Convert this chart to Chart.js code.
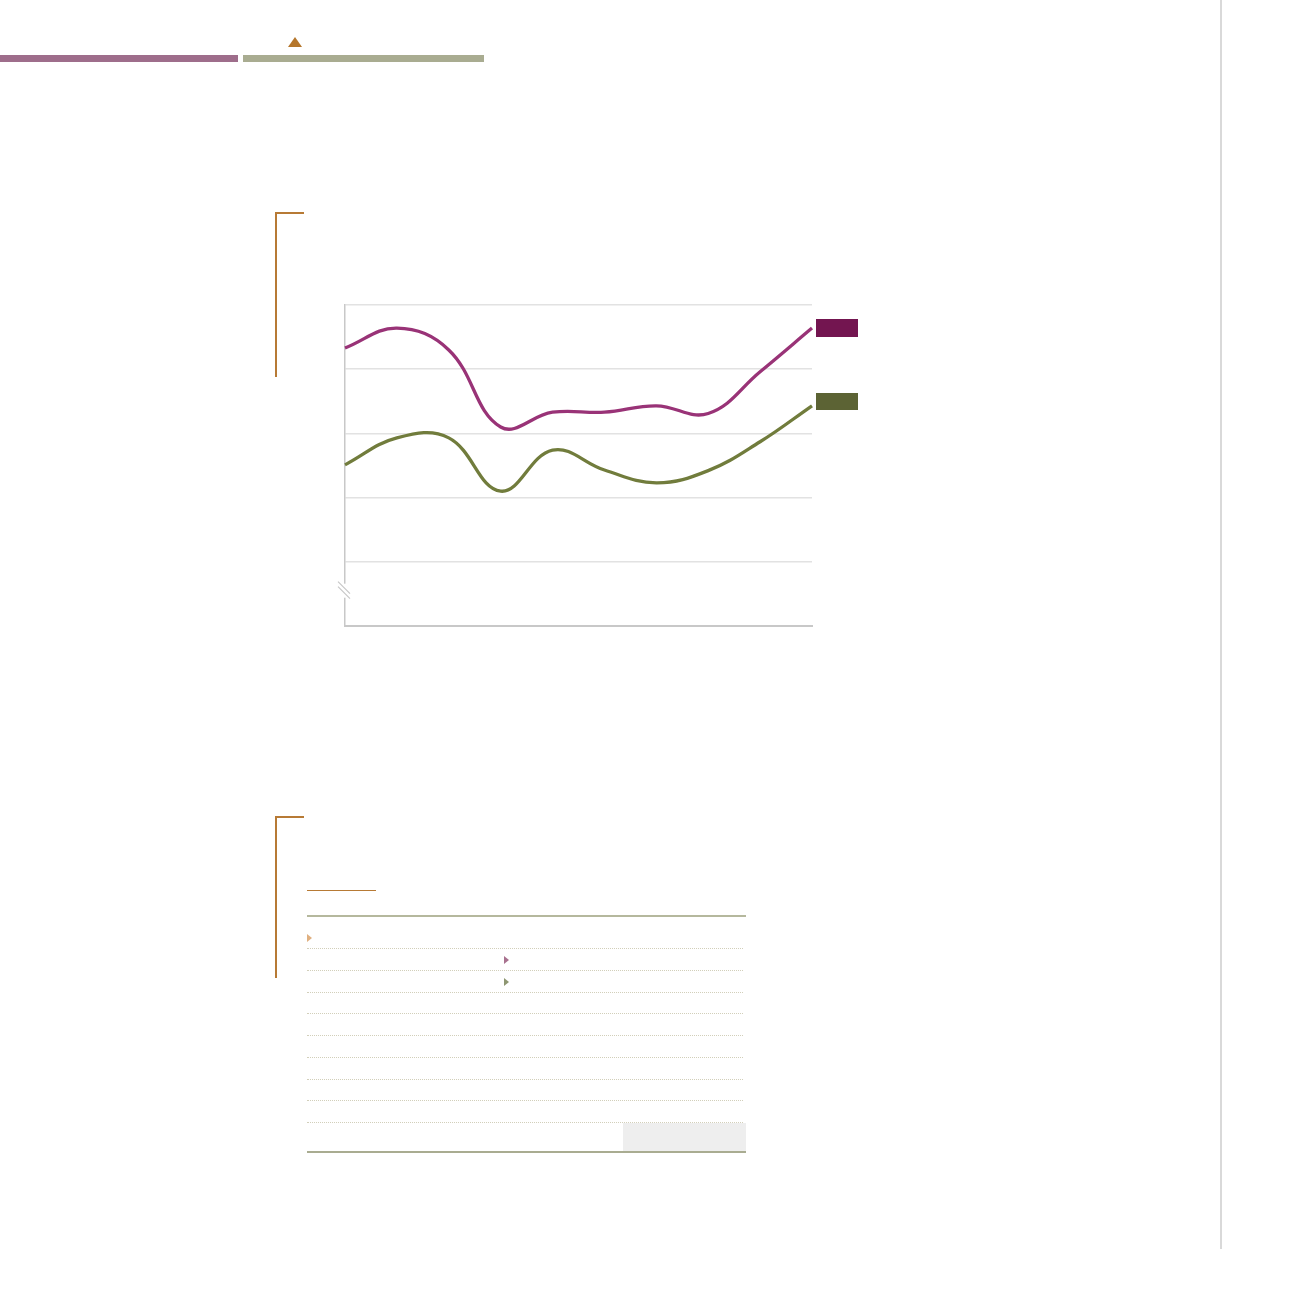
<!DOCTYPE html>
<html>
<head>
<meta charset="utf-8">
<script src="https://cdn.jsdelivr.net/npm/chart.js@4.4.1/dist/chart.umd.min.js"></script>
<style>
  html, body { margin:0; padding:0; background:#fff; width:1301px; height:1301px; overflow:hidden; font-family:"Noto Sans", sans-serif; }
  .abs { position:absolute; }
  #chartWrap { position:absolute; left:330px; top:290px; width:500px; height:350px; }
</style>
</head>
<body>
<!-- top decorations -->
<div class="abs" style="left:0;top:55px;width:238px;height:7px;background:#9e6d8b;"></div>
<div class="abs" style="left:243px;top:55px;width:241px;height:7px;background:#a9ac91;"></div>
<div class="abs" style="left:288px;top:37px;width:0;height:0;border-left:7px solid transparent;border-right:7px solid transparent;border-bottom:10px solid #b5762b;"></div>
<!-- right rule -->
<div class="abs" style="left:1220px;top:0;width:2px;height:1249px;background:#d9d9d9;"></div>

<!-- chart bracket -->
<div class="abs" style="left:275px;top:212px;width:2px;height:165px;background:#b77a35;"></div>
<div class="abs" style="left:275px;top:212px;width:29px;height:2px;background:#b77a35;"></div>

<div id="chartWrap"><canvas id="c" width="500" height="350"></canvas></div>
<div class="abs" style="left:816px;top:319px;width:42px;height:18px;background:#731550;"></div>
<div class="abs" style="left:816px;top:393px;width:42px;height:17px;background:#5c6334;"></div>

<!-- table bracket -->
<div class="abs" style="left:275px;top:816px;width:2px;height:162px;background:#b77a35;"></div>
<div class="abs" style="left:275px;top:816px;width:29px;height:2px;background:#b77a35;"></div>

<!-- table -->
<div class="abs" style="left:307px;top:890px;width:69px;height:1px;background:#b77a35;"></div>
<div class="abs" style="left:307px;top:915px;width:439px;height:2px;background:#b5b89d;"></div>
<div class="abs" style="left:307px;top:934px;width:0;height:0;border-top:4px solid transparent;border-bottom:4px solid transparent;border-left:5px solid #e0b080;"></div>
<div class="abs" style="left:504px;top:956px;width:0;height:0;border-top:4px solid transparent;border-bottom:4px solid transparent;border-left:5px solid #a8718f;"></div>
<div class="abs" style="left:504px;top:978px;width:0;height:0;border-top:4px solid transparent;border-bottom:4px solid transparent;border-left:5px solid #8e9672;"></div>
<div id="dots"></div>
<div class="abs" style="left:623px;top:1123px;width:123px;height:29px;background:#eeeeee;"></div>
<div class="abs" style="left:307px;top:1151px;width:439px;height:2px;background:#a9ac91;"></div>

<script>
// ---- data ----
const categories = ['1','2','3','4','5','6','7','8','9','10'];
const seriesA = [4.33, 4.64, 4.30, 3.10, 3.33, 3.33, 3.43, 3.31, 3.96, 4.64];
const seriesB = [2.51, 2.93, 2.93, 2.10, 2.74, 2.43, 2.23, 2.42, 2.87, 3.43];
const seriesNames = ['', ''];
const yTicks = [];

// dotted table rules
const dotRows = [948, 970, 992, 1013, 1035, 1057, 1079, 1100, 1122];
const dots = document.getElementById('dots');
dotRows.forEach(y => {
  const d = document.createElement('div');
  d.className = 'abs';
  d.style.cssText = `left:307px;top:${y}px;width:436px;height:0;border-top:1px dotted #d2cfba;`;
  dots.appendChild(d);
});

const breakPlugin = {
  id: 'axisBreak',
  afterDraw(chart) {
    const ctx = chart.ctx;
    const x = chart.chartArea.left;
    const y = chart.scales.y.getPixelForValue(0.55);
    ctx.save();
    ctx.fillStyle = '#fff';
    ctx.fillRect(x - 3, y - 7, 6, 14);
    ctx.strokeStyle = '#c8c8c8';
    ctx.lineWidth = 1.2;
    ctx.beginPath();
    ctx.moveTo(x - 7, y - 9); ctx.lineTo(x + 5, y + 3);
    ctx.moveTo(x - 7, y - 4); ctx.lineTo(x + 5, y + 8);
    ctx.stroke();
    ctx.restore();
  }
};

new Chart(document.getElementById('c'), {
  type: 'line',
  data: {
    labels: categories,
    datasets: [
      { label: seriesNames[0], data: seriesA, borderColor: '#993377', borderWidth: 3.3, pointRadius: 0, tension: 0.4, fill: false },
      { label: seriesNames[1], data: seriesB, borderColor: '#717c3c', borderWidth: 3.3, pointRadius: 0, tension: 0.4, fill: false }
    ]
  },
  options: {
    responsive: false,
    animation: false,
    devicePixelRatio: 1,
    layout: { padding: { left: 15, top: 15, right: 18, bottom: 14 } },
    plugins: { legend: { display: false }, tooltip: { enabled: false }, title: { display: false } },
    scales: {
      x: {
        offset: false,
        grid: { display: false, drawTicks: false },
        border: { display: true, color: '#c8c8c8', width: 2 },
        ticks: { display: false }
      },
      y: {
        min: 0, max: 5,
        grid: { color: '#e2e2e2', lineWidth: 1.5, drawTicks: false },
        border: { display: true, color: '#c8c8c8', width: 1.5 },
        ticks: { display: false, stepSize: 1 }
      }
    }
  },
  plugins: [breakPlugin]
});
</script>
</body>
</html>
